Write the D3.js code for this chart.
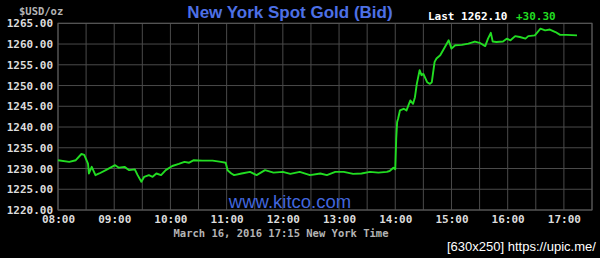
<!DOCTYPE html>
<html>
<head>
<meta charset="utf-8">
<script src="https://cdn.jsdelivr.net/npm/d3@7/dist/d3.min.js"></script>
<style>
  html, body { margin: 0; padding: 0; background: #000; }
  svg { display: block; }
</style>
</head>
<body>
<svg id="chart" width="600" height="258"></svg>
<script>
// ---- data ----
const times = ["08:00","08:12","08:19","08:25","08:28","08:32","08:33","08:36","08:40","08:44","08:51",
  "09:01","09:05","09:11","09:16","09:22","09:25","09:29","09:32","09:37","09:41","09:45","09:50","09:55",
  "10:02","10:09","10:15","10:20","10:25","10:34","10:45","10:54","10:59",
  "11:01","11:05","11:08","11:16","11:25","11:32","11:41","11:50",
  "12:00","12:08","12:18","12:29","12:40","12:47","12:56",
  "13:05","13:15","13:24","13:33","13:42","13:51","13:54","13:58",
  "14:00","14:01","14:02","14:03","14:05","14:09","14:12","14:16","14:19","14:21","14:23","14:26","14:28","14:30",
  "14:34","14:37","14:39","14:42","14:44","14:48","14:53","14:57",
  "15:00","15:04","15:11","15:18","15:25","15:30","15:36","15:39","15:42","15:44","15:48","15:55","15:59",
  "16:03","16:08","16:13","16:19","16:22","16:29","16:35","16:40","16:45","16:51","16:56",
  "17:03","17:14"];
const prices = [1232.0,1231.6,1232.0,1233.5,1233.3,1231.2,1228.8,1230.4,1228.4,1228.8,1229.6,
  1230.8,1230.2,1230.4,1229.6,1229.8,1228.4,1226.8,1228.0,1228.4,1228.0,1228.8,1228.4,1229.6,
  1230.6,1231.1,1231.6,1231.4,1232.0,1231.9,1231.9,1231.6,1231.4,
  1229.6,1228.8,1228.4,1228.8,1229.2,1228.4,1229.6,1229.0,
  1229.2,1228.7,1229.2,1228.4,1228.8,1228.4,1229.2,
  1229.2,1228.7,1228.8,1229.2,1229.0,1229.2,1229.4,1230.2,
  1229.8,1237.2,1241.2,1242.0,1244.0,1244.4,1244.0,1246.4,1245.6,1247.2,1250.4,1253.7,1252.5,1252.8,
  1250.8,1250.4,1250.8,1255.7,1256.5,1257.3,1259.3,1260.9,
  1258.9,1259.7,1259.8,1260.1,1260.6,1260.3,1259.5,1261.3,1262.7,1260.6,1260.5,1260.6,1261.3,
  1260.9,1261.9,1261.7,1261.3,1261.9,1262.1,1263.7,1263.3,1263.5,1262.9,1262.2,
  1262.2,1262.1];
const yTicks = [1220,1225,1230,1235,1240,1245,1250,1255,1260,1265];
const xTickLabels = ["08:00","09:00","10:00","11:00","12:00","13:00","14:00","15:00","16:00","17:00"];
const xGridLabels = ["08:00","08:30","09:00","09:30","10:00","10:30","11:00","11:30","12:00","12:30",
  "13:00","13:30","14:00","14:30","15:00","15:30","16:00","16:30","17:00","17:30"];
const titleText = "New York Spot Gold (Bid)";
const unitText = "$USD/oz";
const lastText = "Last 1262.10";
const changeText = "+30.30";
const dateText = "March 16, 2016 17:15 New York Time";
const siteText = "www.kitco.com";
const watermarkText = "[630x250] https://upic.me/";

// ---- chart ----
const parse = d3.timeParse("%Y-%m-%d %H:%M");
const toDate = t => parse("2016-03-16 " + t);
const data = times.map((t, i) => ({ t: toDate(t), v: prices[i] }));

const svg = d3.select("#chart");
const plot = { left: 58, right: 592, top: 23.3, bottom: 210 };

const x = d3.scaleTime()
  .domain([toDate("08:00"), toDate("17:30")])
  .range([plot.left, plot.right]);
const y = d3.scaleLinear()
  .domain([1220, 1265])
  .range([plot.bottom, plot.top]);

const gridColor = "#4a4a4a";
const labelFont = "'DejaVu Sans Mono', 'Liberation Mono', monospace";

// horizontal gridlines
svg.append("g")
  .selectAll("line")
  .data(yTicks)
  .join("line")
  .attr("x1", plot.left).attr("x2", plot.right)
  .attr("y1", d => y(d)).attr("y2", d => y(d))
  .attr("stroke", gridColor).attr("stroke-width", 1);

// vertical gridlines
svg.append("g")
  .selectAll("line")
  .data(xGridLabels.map(toDate))
  .join("line")
  .attr("x1", d => x(d)).attr("x2", d => x(d))
  .attr("y1", plot.top).attr("y2", plot.bottom)
  .attr("stroke", gridColor).attr("stroke-width", 1);

// border
svg.append("rect")
  .attr("x", plot.left).attr("y", plot.top)
  .attr("width", plot.right - plot.left).attr("height", plot.bottom - plot.top)
  .attr("fill", "none").attr("stroke", "#5a5a5a").attr("stroke-width", 1);

// y axis labels
const yAxis = d3.axisLeft(y).tickValues(yTicks).tickFormat(d3.format(".2f")).tickSize(0).tickPadding(5);
const gy = svg.append("g").attr("transform", `translate(${plot.left},0)`).call(yAxis);
gy.select(".domain").remove();
gy.selectAll("text")
  .attr("fill", "#dcdcdc")
  .style("font-family", labelFont)
  .style("font-weight", "bold")
  .style("font-size", "11px");

// x axis labels
const xAxis = d3.axisBottom(x).tickValues(xTickLabels.map(toDate)).tickFormat(d3.timeFormat("%H:%M")).tickSize(0).tickPadding(5);
const gx = svg.append("g").attr("transform", `translate(0,${plot.bottom})`).call(xAxis);
gx.select(".domain").remove();
gx.selectAll("text")
  .attr("fill", "#dcdcdc")
  .style("font-family", labelFont)
  .style("font-weight", "bold")
  .style("font-size", "11px");

// price line
const line = d3.line().x(d => x(d.t)).y(d => y(d.v));
svg.append("path")
  .datum(data)
  .attr("d", line)
  .attr("fill", "none")
  .attr("stroke", "#22dd22")
  .attr("stroke-width", 1.9)
  .attr("stroke-linejoin", "round");

// texts
svg.append("text")
  .attr("x", 290).attr("y", 17.5)
  .attr("text-anchor", "middle")
  .attr("fill", "#4d70e6")
  .style("font-family", "'Liberation Sans', Arial, sans-serif")
  .style("font-weight", "bold")
  .style("font-size", "17px")
  .text(titleText);

svg.append("text")
  .attr("x", 19).attr("y", 15)
  .attr("fill", "#b4b4b4")
  .style("font-family", labelFont)
  .style("font-weight", "bold")
  .style("font-size", "10.5px")
  .text(unitText);

svg.append("text")
  .attr("x", 428).attr("y", 20)
  .attr("fill", "#ffffff")
  .style("font-family", labelFont)
  .style("font-weight", "bold")
  .style("font-size", "11px")
  .text(lastText);

svg.append("text")
  .attr("x", 516).attr("y", 20)
  .attr("fill", "#22dd22")
  .style("font-family", labelFont)
  .style("font-weight", "bold")
  .style("font-size", "11px")
  .text(changeText);

svg.append("text")
  .attr("x", 290).attr("y", 208.3)
  .attr("text-anchor", "middle")
  .attr("fill", "#4266dc")
  .style("font-family", "'Liberation Sans', Arial, sans-serif")
  .style("font-size", "18.5px")
  .text(siteText);

svg.append("text")
  .attr("x", 281).attr("y", 236.5)
  .attr("text-anchor", "middle")
  .attr("fill", "#b4b4b4")
  .style("font-family", labelFont)
  .style("font-weight", "bold")
  .style("font-size", "10.5px")
  .text(dateText);

svg.append("text")
  .attr("x", 447).attr("y", 251)
  .attr("fill", "#ffffff")
  .style("font-family", "'Liberation Sans', Arial, sans-serif")
  .style("font-size", "13px")
  .text(watermarkText);
</script>
</body>
</html>
